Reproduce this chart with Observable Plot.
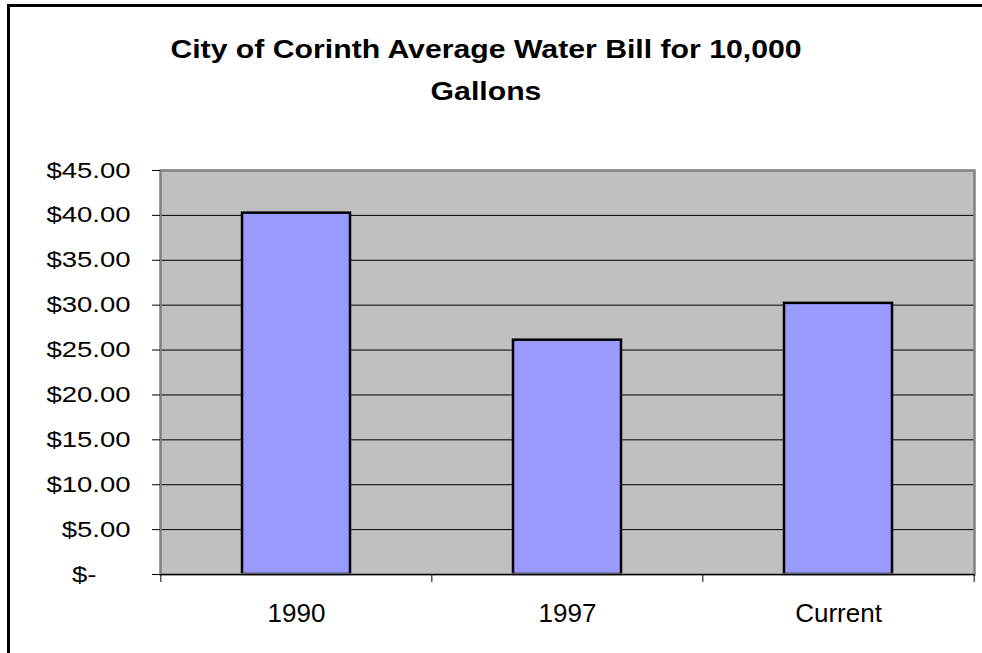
<!DOCTYPE html>
<html><head><meta charset="utf-8">
<script src="https://cdn.jsdelivr.net/npm/d3@7"></script>
<script src="https://cdn.jsdelivr.net/npm/@observablehq/plot@0.6"></script>
<style>
html,body{margin:0;padding:0;background:#fff;}
#wrap{position:relative;width:982px;height:653px;overflow:hidden;}
#chart{position:absolute;left:0;top:0;}
#border{position:absolute;left:7px;top:4px;width:1000px;height:700px;border-left:3px solid #000;border-top:3px solid #000;pointer-events:none;}
#title{position:absolute;left:0;top:28px;width:972px;text-align:center;font-weight:bold;font-size:26.5px;font-family:"Liberation Sans",Arial,sans-serif;line-height:42px;transform:scaleX(1.14);transform-origin:50% 50%;color:#000;}
</style></head><body>
<div id="wrap"><div id="chart"></div><div id="title"></div><div id="border"></div></div>
<script>
const titleLines = ["City of Corinth Average Water Bill for 10,000", "Gallons"];
const categories = ["1990", "1997", "Current"];
const bills = [40.25, 26.1, 30.2];
const yTicks = [0, 5, 10, 15, 20, 25, 30, 35, 40, 45];

const W = 982, H = 653, mL = 160, mR = 8, mT = 170, mB = 79;
const step = (W - mL - mR) / categories.length;
const data = categories.map((c, i) => ({category: c, bill: bills[i]}));
const fmt = d => d === 0 ? "$-" : "$" + d.toFixed(2);

const t = document.getElementById("title");
titleLines.forEach((l, i) => { if (i) t.appendChild(document.createElement("br")); t.appendChild(document.createTextNode(l)); });

const plot = Plot.plot({
  width: W, height: H, marginLeft: mL, marginRight: mR, marginTop: mT, marginBottom: mB,
  style: {fontFamily: '"Liberation Sans", Arial, sans-serif', fontSize: "22px", color: "#000", background: "transparent", overflow: "visible"},
  x: {domain: categories, paddingInner: 0.6, paddingOuter: 0.3, label: null},
  y: {domain: [0, 45], label: null},
  marks: [
    Plot.frame({fill: "#C0C0C0", stroke: null}),
    Plot.gridY(yTicks.filter(v => v > 0 && v < 45), {stroke: "#000", strokeOpacity: 1, strokeWidth: 1}),
    Plot.barY(data, {x: "category", y: "bill", fill: "#9999FF", stroke: "#000", strokeWidth: 2.5}),
    Plot.frame({stroke: "#808080", strokeWidth: 2.5}),
    Plot.ruleY([0], {stroke: "#000", strokeWidth: 1}),
    Plot.axisY(yTicks.filter(v => v > 0), {tickSize: 8, tickPadding: 22, tickFormat: fmt, fontSize: 22, label: null}),
    Plot.axisY([0], {tickSize: 8, tickPadding: 56, tickFormat: fmt, fontSize: 22, label: null}),
    Plot.axisX(categories, {tickSize: 0, tickPadding: 29, fontSize: 26, label: null}),
    Plot.ruleX(categories, {x: d => d, dx: -step / 2, insetTop: H - mT - mB, insetBottom: -8, stroke: "#000"}),
    Plot.ruleX(categories.slice(-1), {x: d => d, dx: step / 2, insetTop: H - mT - mB, insetBottom: -8, stroke: "#000"})
  ]
});
document.getElementById("chart").appendChild(plot);
plot.querySelectorAll('g[aria-label="y-axis tick label"] text').forEach(el => {
  const len = el.getComputedTextLength();
  el.setAttribute("textLength", len * 1.25);
  el.setAttribute("lengthAdjust", "spacingAndGlyphs");
});
</script>
</body></html>
